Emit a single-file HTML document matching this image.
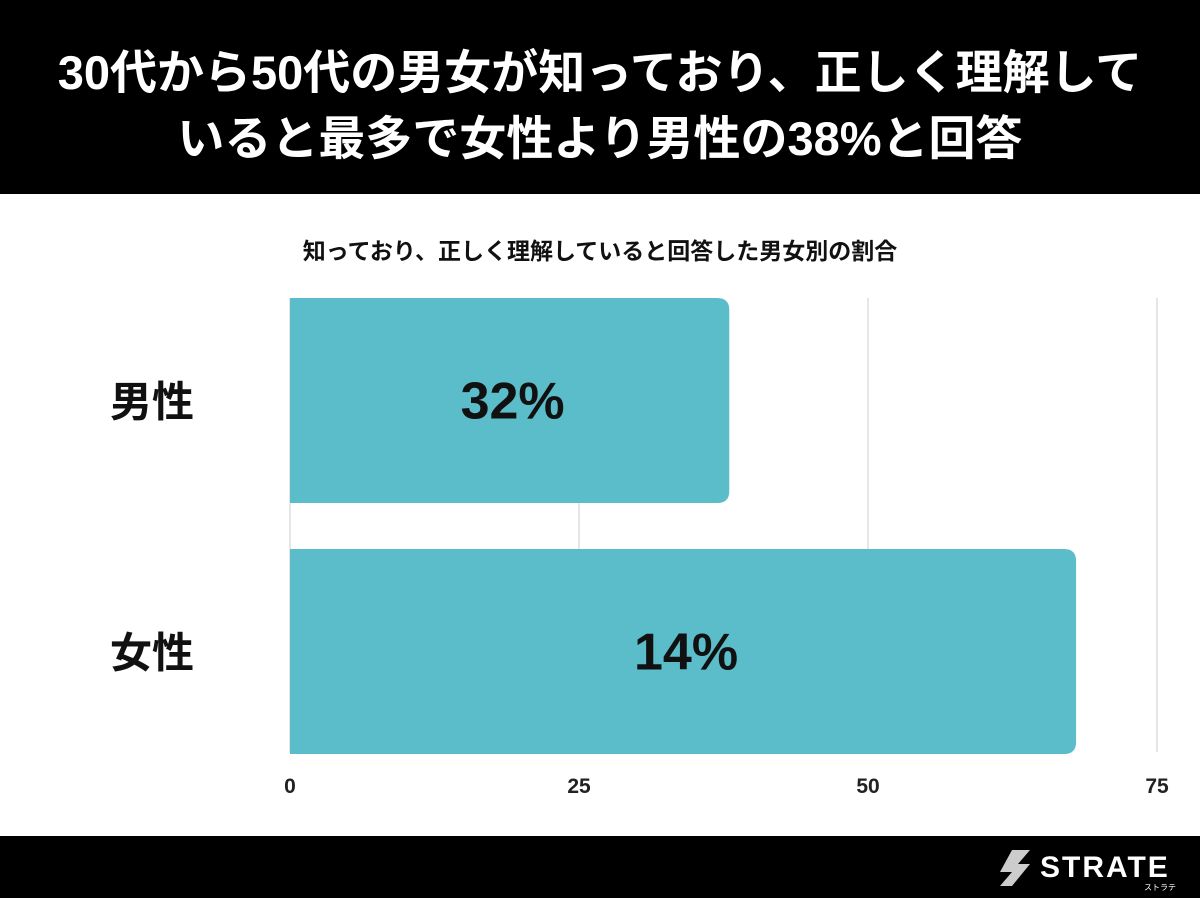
<!DOCTYPE html>
<html><head><meta charset="utf-8"><style>
body{margin:0;width:1200px;height:898px;background:#fff;overflow:hidden;font-family:"Liberation Sans","Noto Sans CJK JP",sans-serif;}
#hdr{position:absolute;left:0;top:0;width:1200px;height:194px;background:#000;color:#fff;font-weight:bold;font-size:47px;text-align:center;line-height:66px;padding-top:40px;box-sizing:border-box;white-space:nowrap;}
#ftr{position:absolute;left:0;top:836px;width:1200px;height:62px;background:#000;}
</style></head><body>
<div id="hdr">30代から50代の男女が知っており、正しく理解して<br>いると最多で女性より男性の38%と回答</div>
<svg id="chart" width="1200" height="898" style="position:absolute;left:0;top:0">
<text x="600" y="259" text-anchor="middle" font-size="23" font-weight="bold" fill="#111">知っており、正しく理解していると回答した男女別の割合</text>
<g id="grid"></g><g id="bars"></g><g id="ticks"></g>
</svg>
<div id="ftr">
<svg width="1200" height="62" style="position:absolute;left:0;top:0">
<g>
<polygon points="1012,14 1030,14 1018,28 1030,28 1012,50 1000,50 1012,36 1000,36" fill="#ccc"/>
<text x="1040" y="41" font-size="30" font-weight="bold" fill="#fff" letter-spacing="2">STRATE</text>
<text x="1160" y="54" font-size="8" fill="#fff" text-anchor="middle">ストラテ</text>
</g></svg></div>
<script>
const categories=["男性","女性"];
const values=[38,68];
const valueLabels=["32%","14%"];
const tickValues=[0,25,50,75];
const x0=290,x1=1157,max=75;
const xs=v=>x0+(x1-x0)*v/max;
const bandTop=[298,549],bandH=205;
const ns="http://www.w3.org/2000/svg";
function mk(t,a,p){const e=document.createElementNS(ns,t);for(const k in a)e.setAttribute(k,a[k]);p.appendChild(e);return e;}
const grid=document.getElementById('grid'),bars=document.getElementById('bars'),ticks=document.getElementById('ticks');
tickValues.forEach(v=>{
 const l=mk('line',{x1:xs(v),x2:xs(v),y1:298,y2:752,stroke:'#ddd','stroke-width':1.5},grid);
 
 
 const t=mk('text',{x:xs(v),y:793,'text-anchor':'middle','font-size':21,'font-weight':'bold',fill:'#222'},ticks);
 t.textContent=v;
 
 
});
categories.forEach((c,i)=>{
 const y=bandTop[i],w=xs(values[i])-x0,r=12;
 const p=mk('path',{d:`M${x0},${y}H${x0+w-r}Q${x0+w},${y} ${x0+w},${y+r}V${y+bandH-r}Q${x0+w},${y+bandH} ${x0+w-r},${y+bandH}H${x0}Z`,fill:'#5bbcca'},bars);
 
 
 const vl=mk('text',{x:x0+w/2+3,y:y+bandH/2+18,'text-anchor':'middle','font-size':52,'font-weight':'bold',fill:'#111'},bars);
 vl.textContent=valueLabels[i];
 
 
 const cl=mk('text',{x:152,y:y+bandH/2+16,'text-anchor':'middle','font-size':42,'font-weight':'bold',fill:'#111'},bars);
 cl.textContent=c;
 
 
});
</script>
</body></html>
